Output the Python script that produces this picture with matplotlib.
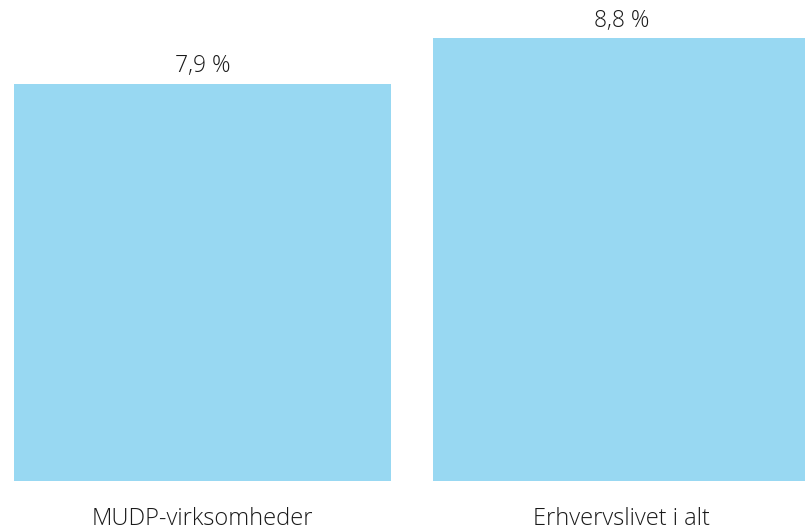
import matplotlib
matplotlib.use("Agg")
import matplotlib.pyplot as plt

categories = ["MUDP-virksomheder", "Erhvervslivet i alt"]
values = [7.9, 8.8]
value_labels = ["7,9 %", "8,8 %"]

bar_color = "#98D8F2"
text_color = "#1a1a1a"

plt.rcParams["font.family"] = ["Open Sans", "DejaVu Sans"]

fig = plt.figure(figsize=(8.05, 5.30), dpi=100)
# axes spans the whole width; baseline sits 49 px above the bottom edge
ax = fig.add_axes([0, 49 / 530, 1, 481 / 530])

px_per_unit_x = 419.0
px_per_unit_y = 50.3
xmin = -0.45 - 14 / px_per_unit_x
ax.set_xlim(xmin, xmin + 805 / px_per_unit_x)
ax.set_ylim(0, 481 / px_per_unit_y)

positions = list(range(len(categories)))
bars = ax.bar(positions, values, width=0.9, color=bar_color, edgecolor="none")

for pos, val, lab in zip(positions, values, value_labels):
    ax.annotate(lab, (pos, val), xytext=(0, 4), textcoords="offset points",
                ha="center", va="bottom", fontsize=16.5, color=text_color,
                fontweight="light")

ax.set_xticks(positions)
ax.set_xticklabels(categories, fontsize=17, color=text_color, fontweight="light")
ax.tick_params(axis="x", length=0, pad=19)
ax.set_yticks([])
for s in ax.spines.values():
    s.set_visible(False)

fig.savefig("out.png", dpi=100, facecolor="white")
